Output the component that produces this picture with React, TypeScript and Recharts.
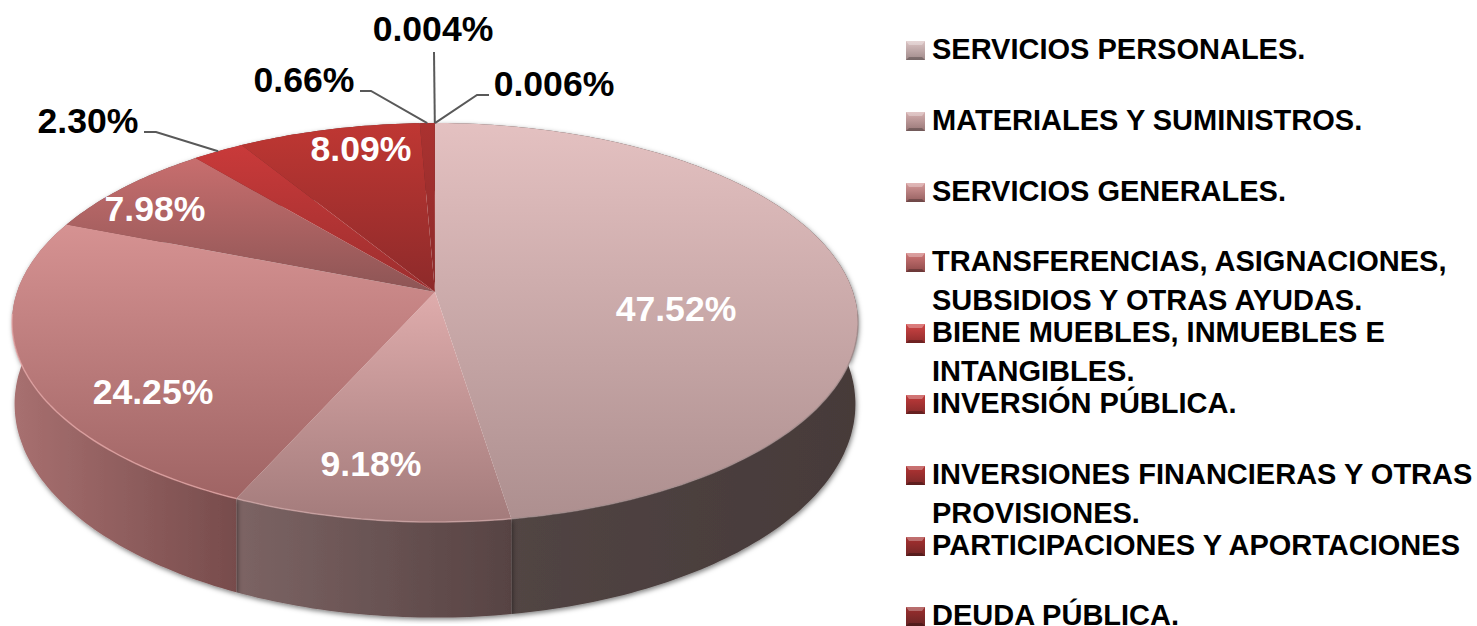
import React from 'react';
import { Legend, Pie, PieChart } from 'recharts';

const categories = [
  'SERVICIOS PERSONALES.',
  'MATERIALES Y SUMINISTROS.',
  'SERVICIOS GENERALES.',
  'TRANSFERENCIAS, ASIGNACIONES, SUBSIDIOS Y OTRAS AYUDAS.',
  'BIENE MUEBLES, INMUEBLES E INTANGIBLES.',
  'INVERSIÓN PÚBLICA.',
  'INVERSIONES FINANCIERAS Y OTRAS PROVISIONES.',
  'PARTICIPACIONES Y APORTACIONES',
  'DEUDA PÚBLICA.',
];
const shares = [47.52, 9.18, 24.25, 7.98, 2.3, 8.09, 0.66, 0.004, 0.006];

const tableData = categories.map((name, i) => ({ name, value: shares[i] }));

// top face gradient, light to dark
const topColors = [
  ['#e4c1c1', '#ad8f8f'],
  ['#dfacac', '#a37b7b'],
  ['#d69292', '#9f6464'],
  ['#c86e6e', '#8d5555'],
  ['#c93a3a', '#9c2e2e'],
  ['#bf3733', '#8d2a2a'],
  ['#ab3230', '#8a2a2a'],
  ['#a83030', '#8a2a2a'],
  ['#a83030', '#8a2a2a'],
];
// side wall gradient, left to right
const wallColors = [
  ['#544746', '#463a39'],
  ['#7c6464', '#574343'],
  ['#a87070', '#774c4c'],
  ['#8a5656', '#6f4444'],
  ['#8a3030', '#6f2a2a'],
  ['#7a2a2a', '#5f2222'],
  ['#7a2a2a', '#5f2222'],
  ['#7a2a2a', '#5f2222'],
  ['#7a2a2a', '#5f2222'],
];
const rimColors = ['#a08a8a', '#d2a8a8', '#e8aaaa', '#d98080', '#d85050', '#cc4444', '#bb3a3a', '#bb3a3a', '#bb3a3a'];
const swatchColors = [
  ['#dcc4c4', '#a08a8a'],
  ['#d6b0b0', '#987777'],
  ['#d69a9a', '#945f5f'],
  ['#d07878', '#8f4a4a'],
  ['#d04545', '#8f2c2c'],
  ['#c23a3a', '#852a2a'],
  ['#b43434', '#7a2828'],
  ['#a83030', '#702626'],
  ['#9c2e2e', '#682525'],
];

// label centres, elbow points of the leader lines (null = no leader)
const labelSpots = [
  [676, 309], [371, 464], [153, 392], [155, 209], [88, 121], [361, 149], [304, 80], [433, 29], [554, 84],
];
const labelElbows = [null, null, null, null, [[144, 132], [156, 132]], null, [[360, 91], [371, 91]], [[434, 52]], [[489, 95], [477, 95]]];

// the tilted disc is a perspective circle: apex sits above the middle of the ellipse
const TOP_FACE = { dy: 0, a: 418, b: 194.8, k: 0.153 };
const BOTTOM_FACE = { dy: 78, a: 415, b: 208, k: 0.16 };

const project = (cx: number, cy: number, face: typeof TOP_FACE, angle: number) => {
  const t = ((90 - angle) * Math.PI) / 180;
  const u = Math.sin(t);
  const v = -Math.cos(t);
  const den = 1 - face.k * v;
  return [cx + (face.a * u) / den, cy + face.dy + (face.b * v) / den];
};

const arcPoints = (cx: number, cy: number, face: typeof TOP_FACE, start: number, end: number) => {
  const steps = Math.max(2, Math.ceil(Math.abs(end - start)));
  const pts: number[][] = [];
  for (let i = 0; i <= steps; i++) pts.push(project(cx, cy, face, start + ((end - start) * i) / steps));
  return pts;
};

const toPath = (pts: number[][]) => pts.map((p, i) => `${i ? 'L' : 'M'}${p[0].toFixed(1)} ${p[1].toFixed(1)}`).join(' ');

const WallShape = (props: any) => {
  const { cx, cy, startAngle, endAngle, index } = props;
  const topArc = arcPoints(cx, cy, TOP_FACE, startAngle, endAngle);
  const bottomArc = arcPoints(cx, cy, BOTTOM_FACE, endAngle, startAngle);
  return <path d={`${toPath(topArc.concat(bottomArc))} Z`} fill={`url(#wall${index})`} filter="url(#wallShadow)" />;
};

const TopShape = (props: any) => {
  const { cx, cy, startAngle, endAngle, index } = props;
  const arc = arcPoints(cx, cy, TOP_FACE, startAngle, endAngle);
  // only the near edge catches the light
  const rim = arc.filter((p) => p[1] > cy + 20);
  return (
    <g>
      <path d={`M${cx} ${cy} ${toPath(arc).replace('M', 'L')} Z`} fill={`url(#top${index})`} />
      {rim.length > 1 && <path d={toPath(rim)} fill="none" stroke={rimColors[index]} strokeWidth={1.5} opacity={0.7} />}
    </g>
  );
};

const SliceLabel = (props: any) => {
  const { cx, cy, midAngle, index, value } = props;
  const [x, y] = labelSpots[index];
  const elbow = labelElbows[index];
  const text = `${value.toFixed(value < 0.01 ? 3 : 2)}%`;
  const tip = project(cx, cy, TOP_FACE, midAngle);
  return (
    <g>
      {elbow && <polyline points={[...elbow, tip].map((p) => p.join(',')).join(' ')} fill="none" stroke="#595959" strokeWidth={2} />}
      <text
        x={x}
        y={y}
        textAnchor="middle"
        dominantBaseline="central"
        fill={elbow ? '#000000' : '#ffffff'}
        style={{ fontFamily: '"Liberation Sans", Arial, sans-serif', fontWeight: 700, fontSize: 35.6 }}
      >
        {text}
      </text>
    </g>
  );
};

const LegendList = ({ payload }: any) => (
  <div style={{ position: 'absolute', left: 0, top: 0, width: 1477, height: 626 }}>
    {(payload || []).slice(0, categories.length).map((entry: any, i: number) => (
      <div key={entry.value} style={{ position: 'absolute', left: 906, top: 41 + i * 70.8, width: 571 }}>
        <div
          style={{
            position: 'absolute',
            left: 0,
            top: 0,
            width: 19,
            height: 19,
            background: `linear-gradient(${swatchColors[i][0]}, ${swatchColors[i][1]})`,
          }}
        >
          <svg width={19} height={19} style={{ display: 'block' }}>
            <polygon points="0,0 19,0 16,4 3,4" fill="#ffffff" opacity={0.3} />
            <polygon points="0,19 19,19 16,16 3,16" fill="#000000" opacity={0.25} />
          </svg>
        </div>
        <div
          style={{
            position: 'absolute',
            left: 26,
            top: -11,
            width: 545,
            color: '#000000',
            fontFamily: '"Liberation Sans", Arial, sans-serif',
            fontWeight: 700,
            fontSize: 29,
            lineHeight: '39px',
            textAlign: 'left',
          }}
        >
          {entry.value}
        </div>
      </div>
    ))}
  </div>
);

export default function App() {
  return (
    <div style={{ position: 'absolute', left: 0, top: 0, width: 1477, height: 626, background: '#ffffff', overflow: 'hidden' }}>
      <PieChart width={1477} height={626} margin={{ top: 0, right: 0, bottom: 0, left: 0 }}>
        <defs>
          {topColors.map((c, i) => (
            <linearGradient key={i} id={`top${i}`} x1="0" y1="0" x2="0" y2="1">
              <stop offset="0%" stopColor={c[0]} />
              <stop offset="100%" stopColor={c[1]} />
            </linearGradient>
          ))}
          {wallColors.map((c, i) => (
            <linearGradient key={i} id={`wall${i}`} x1="0" y1="0" x2="1" y2="0">
              <stop offset="0%" stopColor={c[0]} />
              <stop offset="100%" stopColor={c[1]} />
            </linearGradient>
          ))}
          <filter id="wallShadow" x="-5%" y="-5%" width="110%" height="110%">
            <feDropShadow dx={1} dy={2} stdDeviation={2.5} floodColor="#000000" floodOpacity={0.5} />
          </filter>
        </defs>
        <Pie
          data={tableData}
          dataKey="value"
          nameKey="name"
          cx={435}
          cy={292}
          outerRadius={200}
          startAngle={90}
          endAngle={-270}
          stroke="none"
          legendType="none"
          shape={WallShape}
          isAnimationActive={false}
        />
        <Pie
          data={tableData}
          dataKey="value"
          nameKey="name"
          cx={435}
          cy={292}
          outerRadius={200}
          startAngle={90}
          endAngle={-270}
          stroke="none"
          shape={TopShape}
          label={SliceLabel}
          labelLine={false}
          isAnimationActive={false}
        />
        <Legend content={LegendList} itemSorter={null} wrapperStyle={{ left: 0, top: 0, width: 1477, height: 626 }} />
      </PieChart>
    </div>
  );
}
